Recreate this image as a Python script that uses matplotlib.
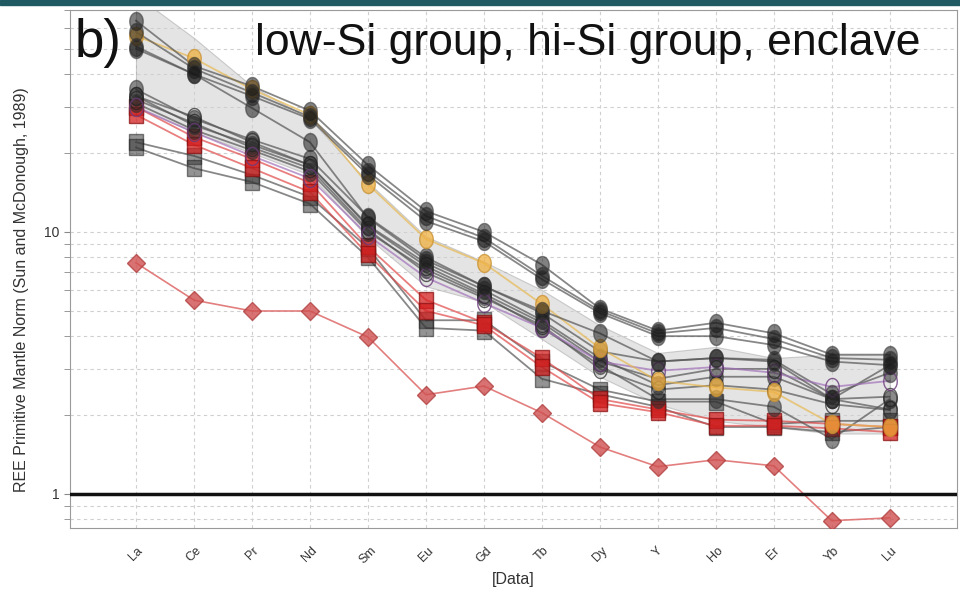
import numpy as np
import matplotlib
matplotlib.use("Agg")
import matplotlib.pyplot as plt
from matplotlib.patches import Rectangle

plt.rcParams['font.family'] = ['Liberation Sans', 'DejaVu Sans']

# REE elements on the x axis
elements = ["La", "Ce", "Pr", "Nd", "Sm", "Eu", "Gd", "Tb", "Dy", "Y", "Ho", "Er", "Yb", "Lu"]

# grey envelope
env_upper = [80, 55, 36, 27, 15.5, 9.6, 7.7, 6.0, 4.4, 3.45, 3.64, 3.3, 3.4, 3.4]
env_lower = [30, 24, 20, 16.5, 9.5, 6.2, 5.4, 3.9, 2.8, 2.2, 1.9, 1.8, 1.7, 1.7]

# hi-Si group, black circles (upper cluster)
hi_1 = [64, 43, 36, 29, 18, 12, 10, 7.5, 5.1, 4.2, 4.5, 4.1, 3.4, 3.4]
hi_2 = [58, 42, 34, 27.5, 17, 11.5, 9.5, 6.8, 5.0, 4.1, 4.3, 3.9, 3.3, 3.25]
hi_3 = [51, 40, 33, 27, 16.5, 11, 9.2, 6.6, 4.9, 4.0, 4.0, 3.7, 3.2, 3.1]
hi_4 = [50, 40, 29.7, 22, 11.3, 7.8, 6.2, 5.0, 4.1, 3.2, 3.3, 3.2, 2.3, 2.1]
# orange circles
gold_1 = [56, 46, 35, 28, 15.2, 9.4, 7.6, 5.3, 3.6, 2.7, 2.55, 2.45, 1.85, 1.8]
# low-Si group, circles (lower cluster)
lo_1 = [35, 27, 22.5, 19, 11.4, 8.0, 6.2, 4.9, 3.5, 3.2, 3.3, 3.25, 2.4, 2.9]
lo_2 = [33, 25.5, 21.5, 18, 10.6, 7.6, 6.0, 4.6, 3.3, 2.6, 2.8, 2.8, 2.3, 3.1]
lo_3 = [31, 24.5, 20.5, 17, 10.0, 7.2, 5.7, 4.3, 3.1, 2.3, 2.3, 2.15, 1.62, 2.3]
open_1 = [33, 27.5, 22, 18, 10.5, 7.4, 5.8, 4.5, 3.2, 2.75, 3.0, 3.0, 2.3, 2.35]
open_2 = [32, 26, 21, 17.5, 10.2, 7.0, 5.6, 4.4, 3.0, 2.5, 2.6, 2.5, 2.2, 2.09]
purple_1 = [30, 24, 19.5, 16, 9.7, 6.7, 5.35, 4.3, 3.2, 2.95, 3.05, 2.9, 2.56, 2.7]
# squares
red_1 = [30, 23, 19, 15.4, 8.8, 5.5, 4.5, 3.3, 2.3, 2.1, 1.92, 1.9, 1.85, 1.8]
red_2 = [28, 21.5, 17.5, 14.2, 8.2, 5.0, 4.4, 3.05, 2.22, 2.05, 1.82, 1.82, 1.78, 1.72]
sq_1 = [22, 19.5, 16.5, 13.6, 8.7, 4.6, 4.6, 3.2, 2.5, 2.25, 2.25, 1.85, 1.9, 1.9]
sq_2 = [21, 17.5, 15.5, 12.8, 8.0, 4.3, 4.2, 2.75, 2.4, 2.15, 1.8, 1.8, 1.72, 1.8]
# enclave, red diamonds
enclave = [7.62, 5.49, 4.99, 4.99, 3.97, 2.39, 2.58, 2.04, 1.51, 1.27, 1.35, 1.28, 0.79, 0.81]

x = np.arange(len(elements))

# slightly tall markers, like the stretched original
t = np.linspace(0, 2 * np.pi, 41)
ellipse = list(zip(0.75 * np.cos(t), np.sin(t)))
tall_sq = [(-0.85, -1), (0.85, -1), (0.85, 1), (-0.85, 1), (-0.85, -1)]

fig = plt.figure(figsize=(9.6, 5.9), dpi=100)
fig.patches.append(Rectangle((0, 0.992), 1, 0.008, transform=fig.transFigure,
                             color="#1f5a63", zorder=0))
ax = fig.add_axes([70 / 960, 1 - 528 / 590, (957 - 70) / 960, (528 - 10) / 590])

ax.fill_between(x, env_lower, env_upper, color="#cfcfcf", alpha=0.55,
                edgecolor="#a8a8a8", linewidth=0.8, zorder=1)

def series(vals, lc, mk, fc, ec, ms=13, alpha=0.55, lw=1.3, la=0.7):
    ax.plot(x, vals, color=lc, lw=lw, alpha=la, zorder=2)
    ax.plot(x, vals, ls="none", marker=mk, ms=ms, mfc=fc, mec=ec,
            mew=1.0, alpha=alpha, zorder=3)

for s in [sq_1, sq_2]:
    series(s, "#555555", tall_sq, "#3a3a3a", "#222222", ms=12)
for s in [red_1, red_2]:
    series(s, "#e04848", tall_sq, "#d42020", "#8a1010", ms=12, alpha=0.75)
for s in [lo_1, lo_2, lo_3]:
    series(s, "#555555", ellipse, "#2a2a2a", "#333333")
for s in [open_1, open_2]:
    series(s, "#555555", ellipse, "none", "#222222", alpha=0.7)
series(purple_1, "#a070b8", ellipse, "none", "#6a3a7a", alpha=0.8)
series(gold_1, "#e8b850", ellipse, "#f0b040", "#c89030", alpha=0.75)
for s in [hi_1, hi_2, hi_3, hi_4]:
    series(s, "#555555", ellipse, "#1a1a1a", "#333333")
series(enclave, "#e07070", "D", "#d05050", "#b04040", ms=9, alpha=0.8, lw=1.2, la=0.9)

ax.axhline(1, color="#111111", lw=2.5, zorder=4)

ax.set_yscale("log")
ax.set_ylim(0.741, 70.3)
ax.set_xlim(-1.138, 14.16)
ax.set_yticks([1, 10])
ax.set_yticklabels(["1", "10"])
ax.set_xticks(x)
ax.set_xticklabels(elements, rotation=45, fontsize=9, color="#333333")
ax.tick_params(axis="x", length=0, pad=12)
ax.tick_params(axis="y", which="both", direction="out", length=4, color="#888888",
               labelsize=10, labelcolor="#333333")
ax.tick_params(axis="y", which="minor", labelleft=False)
ax.grid(True, which="both", axis="y", ls=(0, (3, 3)), color="#cfcfcf", lw=0.8)
ax.grid(True, which="major", axis="x", ls=(0, (3, 3)), color="#cfcfcf", lw=0.8)
ax.set_axisbelow(True)
for sp in ax.spines.values():
    sp.set_color("#9a9a9a")

ax.set_xlabel("[Data]", fontsize=11.5, color="#333333", labelpad=4)
ax.set_ylabel("REE Primitive Mantle Norm (Sun and McDonough, 1989)", fontsize=11.5,
              color="#333333")
ax.yaxis.set_label_coords(-0.046, 0.46)

ax.text(75, 533, "b)", transform=None, fontsize=38, color="#111111", va="baseline")
ax.text(255, 535, "low-Si group, hi-Si group, enclave", transform=None,
        fontsize=32, color="#111111", va="baseline")

fig.savefig("out.png", dpi=100)
